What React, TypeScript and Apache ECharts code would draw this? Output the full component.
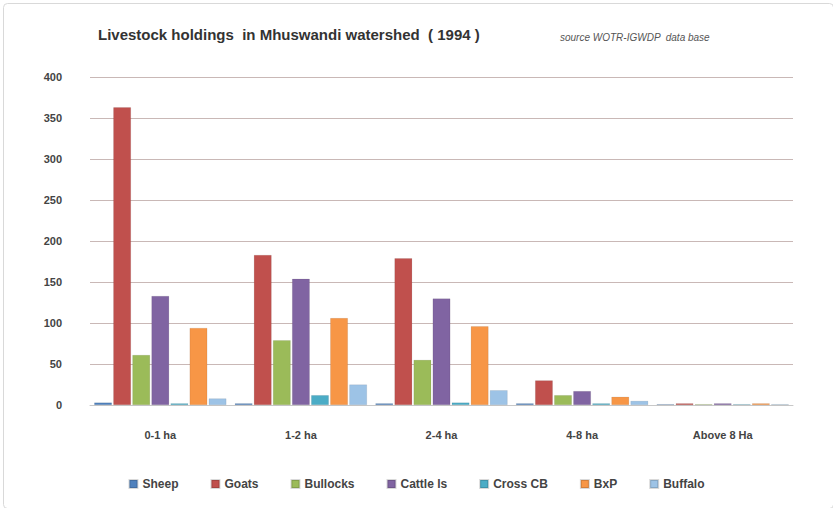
import React, { useEffect, useRef } from "react";
import * as echarts from "echarts";

const categories = ["0-1 ha", "1-2 ha", "2-4 ha", "4-8 ha", "Above 8 Ha"];
const seriesNames = ["Sheep", "Goats", "Bullocks", "Cattle ls", "Cross CB", "BxP", "Buffalo"];
const sheep = [3, 2, 2, 2, 1];
const goats = [363, 183, 179, 30, 2];
const bullocks = [61, 79, 55, 12, 1];
const cattle = [133, 154, 130, 17, 2];
const crossCB = [2, 12, 3, 2, 1];
const bxp = [94, 106, 96, 10, 2];
const buffalo = [8, 25, 18, 5, 1];
const seriesValues = [sheep, goats, bullocks, cattle, crossCB, bxp, buffalo];
const colors = ["#4F81BD", "#C0504D", "#9BBB59", "#8064A2", "#4BACC6", "#F79646", "#9DC3E6"];
const yTicks = { min: 0, max: 400, interval: 50 };

export default function App() {
  const ref = useRef<HTMLDivElement>(null);
  useEffect(() => {
    if (!ref.current) return;
    const chart = echarts.init(ref.current, null, { renderer: "svg" });
    chart.setOption({
      animation: false,
      backgroundColor: "#ffffff",
      color: colors,
      textStyle: { fontFamily: "Liberation Sans, Arial, sans-serif" },
      title: [
        {
          text: "Livestock holdings  in Mhuswandi watershed  ( 1994 )",
          left: 93,
          top: 22,
          textStyle: { fontSize: 15, fontWeight: "bold", color: "#333", fontFamily: "Liberation Sans Narrow, Liberation Sans, sans-serif" },
        },
        {
          text: "source WOTR-IGWDP  data base",
          left: 555,
          top: 27,
          textStyle: { fontSize: 10, fontStyle: "italic", fontWeight: "normal", color: "#555" },
        },
      ],
      legend: {
        bottom: 13,
        left: "center",
        itemWidth: 8,
        itemHeight: 8,
        itemGap: 32,
        icon: "rect",
        textStyle: { fontSize: 12, color: "#444", fontWeight: "bold", fontFamily: "Liberation Sans Narrow, Liberation Sans, sans-serif" },
        data: seriesNames,
      },
      grid: { left: 90, right: 40, top: 77, height: 328 },
      xAxis: {
        type: "category",
        data: categories,
        axisLine: { lineStyle: { color: "#c8c8c8" } },
        axisTick: { show: false },
        axisLabel: { fontSize: 11, color: "#444", fontWeight: "bold", margin: 24 },
      },
      yAxis: {
        type: "value",
        min: yTicks.min,
        max: yTicks.max,
        interval: yTicks.interval,
        axisLine: { show: false },
        axisTick: { show: false },
        axisLabel: { fontSize: 11, color: "#444", fontWeight: "bold", margin: 28 },
        splitLine: { lineStyle: { color: "#c9b8b6", width: 1.2 } },
      },
      series: seriesNames.map((name, i) => ({
        name,
        type: "bar",
        data: seriesValues[i],
        barGap: "8%",
        barCategoryGap: "6%",
        itemStyle: { color: colors[i], borderColor: "rgba(0,0,0,0.15)", borderWidth: 0.5 },
      })),
      graphic: [
        {
          type: "rect",
          left: 1,
          top: 1,
          shape: { width: 830, height: 505, r: 4 },
          style: { fill: "none", stroke: "#d9d9d9", lineWidth: 1 },
        },
      ],
    });
    return () => chart.dispose();
  }, []);
  return <div ref={ref} style={{ position: "fixed", left: 0, top: 0, width: 833, height: 508 }} />;
}
